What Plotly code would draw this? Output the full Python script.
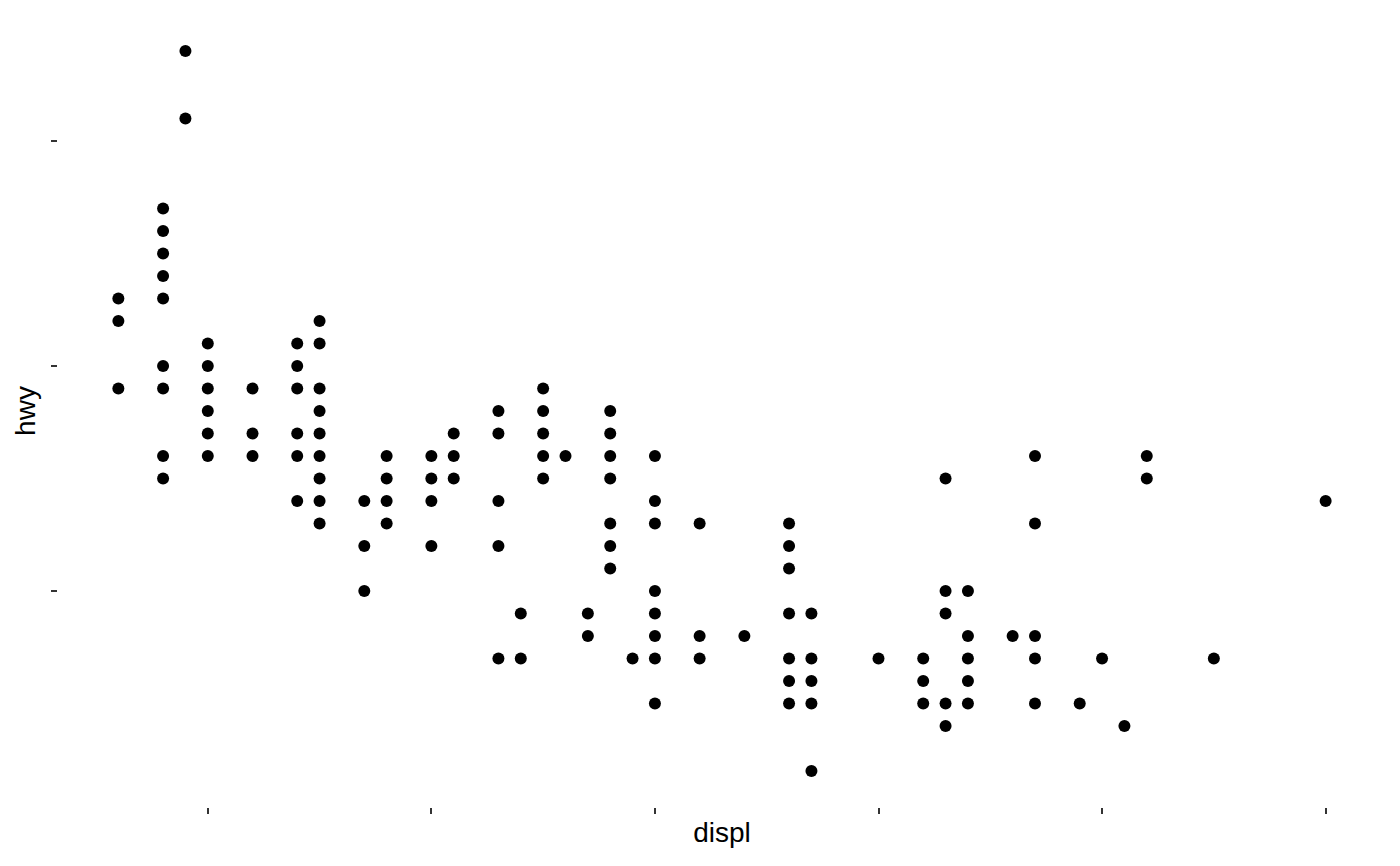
import plotly.graph_objects as go

# Unique (displ, hwy) points
displ = (
    [1.6] * 3 + [1.8] * 9 + [1.9] * 2 + [2.0] * 6 + [2.2] * 3 + [2.4] * 6 + [2.5] * 9
    + [2.7] * 3 + [2.8] * 4 + [3.0] * 4 + [3.1] * 3 + [3.3] * 5 + [3.4] * 2 + [3.5] * 5
    + [3.6] * 1 + [3.7] * 2 + [3.8] * 7 + [3.9] * 1 + [4.0] * 8 + [4.2] * 3 + [4.4] * 1
    + [4.6] * 7 + [4.7] * 5 + [5.0] * 1 + [5.2] * 3 + [5.3] * 5 + [5.4] * 5 + [5.6] * 1
    + [5.7] * 5 + [5.9] * 1 + [6.0] * 1 + [6.1] * 1 + [6.2] * 2 + [6.5] * 1 + [7.0] * 1
)
hwy = [
    33, 32, 29,                          # 1.6
    37, 36, 35, 34, 33, 30, 29, 26, 25,  # 1.8
    44, 41,                              # 1.9
    31, 30, 29, 28, 27, 26,              # 2.0
    29, 27, 26,                          # 2.2
    31, 30, 29, 27, 26, 24,              # 2.4
    32, 31, 29, 28, 27, 26, 25, 24, 23,  # 2.5
    24, 22, 20,                          # 2.7
    26, 25, 24, 23,                      # 2.8
    26, 25, 24, 22,                      # 3.0
    27, 26, 25,                          # 3.1
    28, 27, 24, 22, 17,                  # 3.3
    19, 17,                              # 3.4
    29, 28, 27, 26, 25,                  # 3.5
    26,                                  # 3.6
    19, 18,                              # 3.7
    28, 27, 26, 25, 23, 22, 21,          # 3.8
    17,                                  # 3.9
    26, 24, 23, 20, 19, 18, 17, 15,      # 4.0
    23, 18, 17,                          # 4.2
    18,                                  # 4.4
    23, 22, 21, 19, 17, 16, 15,          # 4.6
    19, 17, 16, 15, 12,                  # 4.7
    17,                                  # 5.0
    17, 16, 15,                          # 5.2
    25, 20, 19, 15, 14,                  # 5.3
    20, 18, 17, 16, 15,                  # 5.4
    18,                                  # 5.6
    26, 23, 18, 17, 15,                  # 5.7
    15,                                  # 5.9
    17,                                  # 6.0
    14,                                  # 6.1
    26, 25,                              # 6.2
    17,                                  # 6.5
    24,                                  # 7.0
]

x_ticks = [2, 3, 4, 5, 6, 7]
y_ticks = [20, 30, 40]

fig = go.Figure(
    go.Scatter(
        x=displ, y=hwy, mode="markers",
        marker=dict(color="black", size=12, line=dict(width=0)),
    )
)

fig.update_layout(
    width=1400, height=866,
    margin=dict(l=58, r=14, t=15, b=59),
    paper_bgcolor="white", plot_bgcolor="white",
    showlegend=False,
    font=dict(family="Liberation Sans, Arial, sans-serif", color="black"),
)
fig.update_xaxes(
    range=[1.33, 7.27], tickvals=x_ticks, showticklabels=False,
    ticks="outside", ticklen=6, tickwidth=2, tickcolor="#333333",
    showgrid=False, zeroline=False, showline=False,
    title=dict(text="displ", font=dict(size=28), standoff=9),
    automargin=False,
)
fig.update_yaxes(
    range=[10.4, 45.6], tickvals=y_ticks, showticklabels=False,
    ticks="outside", ticklen=6, tickwidth=2, tickcolor="#333333",
    showgrid=False, zeroline=False, showline=False,
    title=dict(text="hwy", font=dict(size=28), standoff=7),
    automargin=False,
)

fig.write_html("out.html")
